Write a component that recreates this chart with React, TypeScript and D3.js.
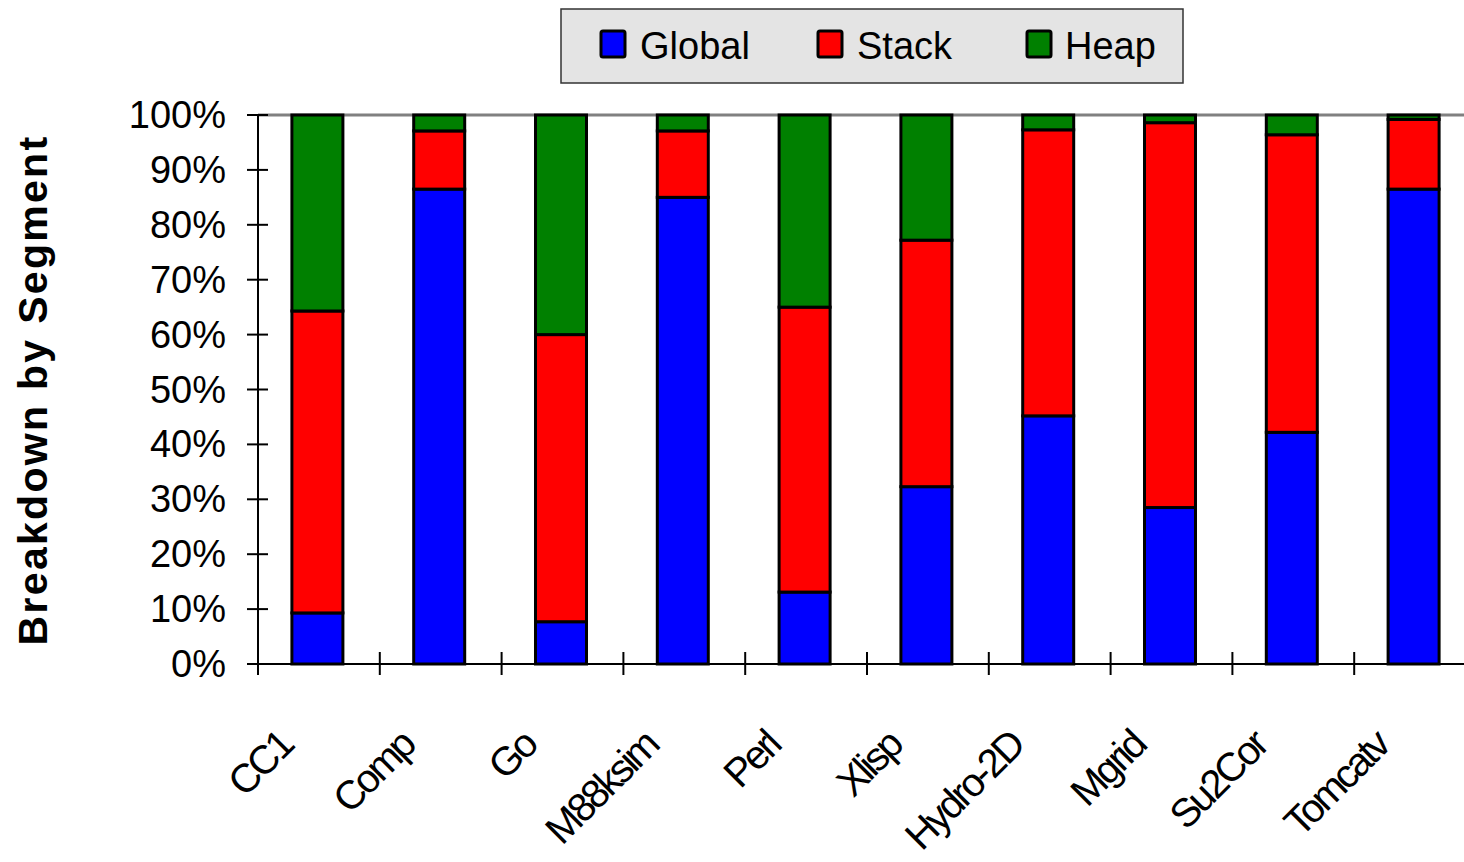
import React from "react";
import * as d3 from "d3";

// Benchmarks and the share of memory references going to each segment (%)
const categories = ["CC1", "Comp", "Go", "M88ksim", "Perl", "Xlisp", "Hydro-2D", "Mgrid", "Su2Cor", "Tomcatv"];
const globalPct = [9.3, 86.5, 7.7, 85.0, 13.1, 32.3, 45.2, 28.5, 42.2, 86.5];
const stackPct = [55.0, 10.6, 52.3, 12.1, 51.9, 44.9, 52.1, 70.1, 54.2, 12.7];
const heapPct = [35.7, 2.9, 40.0, 2.9, 35.0, 22.8, 2.7, 1.4, 3.6, 0.8];

const seriesNames = ["Global", "Stack", "Heap"];
const seriesColors = ["#0000ff", "#ff0000", "#008000"];
const yTicks = [0, 10, 20, 30, 40, 50, 60, 70, 80, 90, 100];

const W = 1464;
const H = 862;
const FONT = "Liberation Sans, Arial, sans-serif";

export default function App() {
  const x0 = 258;
  const step = 121.8;
  const x = d3
    .scaleBand<string>()
    .domain(categories)
    .range([x0, x0 + step * categories.length])
    .padding(0);
  const y = d3.scaleLinear().domain([0, 100]).range([664, 115]);
  const barW = 51;

  const rows = categories.map((c, i) => ({
    cat: c,
    Global: globalPct[i],
    Stack: stackPct[i],
    Heap: heapPct[i],
  }));
  const stacked = d3.stack<any>().keys(seriesNames)(rows);

  const bandEdges = categories.map((c) => x(c)!);

  const legendItems = [
    { name: "Global", sx: 601, tx: 640 },
    { name: "Stack", sx: 818, tx: 857 },
    { name: "Heap", sx: 1027, tx: 1065 },
  ];

  return (
    <svg
      width={W}
      height={H}
      style={{ position: "absolute", left: 0, top: 0, background: "#fff" }}
      fontFamily={FONT}
    >
      {/* top gridline at 100% */}
      <line x1={x0} x2={W} y1={y(100)} y2={y(100)} stroke="#808080" strokeWidth={3} />

      {/* stacked bars */}
      {stacked.map((s, si) => (
        <g key={s.key}>
          {s.map((d, i) => {
            const cx = x(categories[i])! + x.bandwidth() / 2 - 1.5;
            return (
              <rect
                key={i}
                x={cx - barW / 2}
                y={y(d[1])}
                width={barW}
                height={y(d[0]) - y(d[1])}
                fill={seriesColors[si]}
                stroke="#000"
                strokeWidth={3}
              />
            );
          })}
        </g>
      ))}

      {/* y axis */}
      <line x1={x0} x2={x0} y1={y(100)} y2={675} stroke="#000" strokeWidth={2} />
      {yTicks.map((t) => (
        <g key={t}>
          <line x1={247} x2={268} y1={y(t)} y2={y(t)} stroke="#000" strokeWidth={2} />
          <text x={226} y={y(t) + 13} fontSize={38} textAnchor="end" fill="#000">
            {t}%
          </text>
        </g>
      ))}

      {/* x axis */}
      <line x1={247} x2={W} y1={y(0)} y2={y(0)} stroke="#000" strokeWidth={2} />
      {bandEdges.map((bx, i) => (
        <line key={i} x1={bx} x2={bx} y1={i === 0 ? y(0) : 652} y2={675} stroke="#000" strokeWidth={2} />
      ))}
      {categories.map((c) => {
        const ax = x(c)! + x.bandwidth() / 2 - 24;
        const ay = 748;
        return (
          <text
            key={c}
            transform={`translate(${ax},${ay}) rotate(-45)`}
            fontSize={40}
            letterSpacing={-3}
            textAnchor="end"
            fill="#000"
          >
            {c}
          </text>
        );
      })}

      {/* y axis title */}
      <text
        transform={`translate(47,390) rotate(-90)`}
        fontSize={41}
        fontWeight="bold"
        letterSpacing={2.3}
        textAnchor="middle"
        fill="#000"
      >
        Breakdown by Segment
      </text>

      {/* legend */}
      <rect x={561} y={9} width={622} height={74} fill="#e4e4e4" stroke="#333" strokeWidth={1.5} />
      {legendItems.map((it, i) => (
        <g key={it.name}>
          <rect
            x={it.sx}
            y={31}
            width={24}
            height={26}
            rx={2}
            fill={seriesColors[i]}
            stroke="#000"
            strokeWidth={3}
          />
          <text x={it.tx} y={59} fontSize={38} fill="#000">
            {it.name}
          </text>
        </g>
      ))}
    </svg>
  );
}
